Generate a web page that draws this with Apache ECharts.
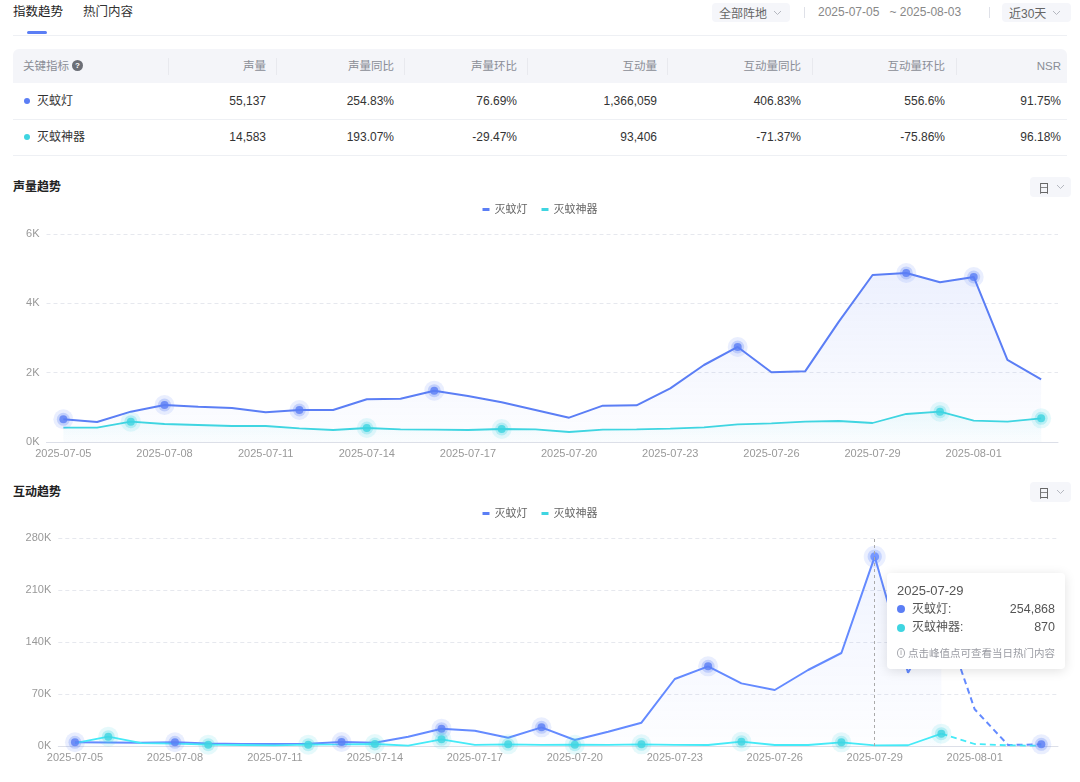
<!DOCTYPE html>
<html>
<head>
<meta charset="utf-8">
<script src="https://cdn.jsdelivr.net/npm/echarts@6/dist/echarts.min.js"></script>
<style>
  body { margin: 0; width: 1080px; height: 782px; overflow: hidden; background: #fff; position: relative;
    font-family: "Liberation Sans", "Noto Sans CJK SC", sans-serif; color: #333; }
  .abs { position: absolute; white-space: nowrap; }
  .pill { position: absolute; background: #f5f6fa; border-radius: 4px; font-size: 12px; color: #666;
    display: flex; align-items: center; box-sizing: border-box; padding-left: 7px; }
  .pill svg { margin-left: 6px; }
  .vsep { position: absolute; width: 1px; height: 11px; background: #dfe1e8; }
  .th { position: absolute; font-size: 11.5px; color: #8a8d96; line-height: 14px; top: 59px; }
  .td { position: absolute; font-size: 12px; color: #333; line-height: 14px; }
  .hdiv { position: absolute; top: 58px; width: 1px; height: 17px; background: #e8e9ee; }
  .title { position: absolute; left: 13px; font-size: 12px; font-weight: bold; color: #222; line-height: 14px; }
  .chart { position: absolute; left: 0; width: 1080px; }
</style>
</head>
<body>
  <div class="abs" style="left:13px;top:4px;font-size:12.5px;color:#222;line-height:16px;">指数趋势</div>
  <div class="abs" style="left:27px;top:31px;width:20px;height:3px;border-radius:2px;background:#5b7ef5;"></div>
  <div class="abs" style="left:83px;top:4px;font-size:12.5px;color:#333;line-height:16px;">热门内容</div>
  <div class="abs" style="left:13px;top:35px;width:1054px;height:1px;background:#eef0f4;"></div>

  <div class="pill" style="left:712px;top:3px;width:78px;height:19px;">全部阵地<svg width="9" height="6"><polyline points="1,1 4.5,4.5 8,1" fill="none" stroke="#b5b8c0"/></svg></div>
  <div class="vsep" style="left:804px;top:7px;"></div>
  <div class="abs" style="left:818px;top:5px;font-size:12px;color:#888;line-height:14px;">2025-07-05&nbsp;&nbsp;&nbsp;~ 2025-08-03</div>
  <div class="vsep" style="left:989px;top:7px;"></div>
  <div class="pill" style="left:1002px;top:3px;width:69px;height:19px;">近30天<svg width="9" height="6"><polyline points="1,1 4.5,4.5 8,1" fill="none" stroke="#b5b8c0"/></svg></div>

  <div class="abs" style="left:13px;top:49px;width:1054px;height:34px;background:#f4f5f9;border-radius:6px 6px 0 0;"></div>
  <div id="table"></div>

  <div class="title" style="top:180px;">声量趋势</div>
  <div class="pill" style="left:1030px;top:177px;width:41px;height:20px;padding-left:8px;z-index:3;">日<svg width="9" height="6"><polyline points="1,1 4.5,4.5 8,1" fill="none" stroke="#b5b8c0"/></svg></div>
  <div id="volume-chart" class="chart" style="top:196px;height:272px;"></div>

  <div class="title" style="top:485px;">互动趋势</div>
  <div class="pill" style="left:1030px;top:482px;width:41px;height:20px;padding-left:8px;z-index:3;">日<svg width="9" height="6"><polyline points="1,1 4.5,4.5 8,1" fill="none" stroke="#b5b8c0"/></svg></div>
  <div id="interact-chart" class="chart" style="top:500px;height:282px;"></div>

<script>
var dates = [
  "2025-07-05", "2025-07-06", "2025-07-07", "2025-07-08", "2025-07-09", "2025-07-10",
  "2025-07-11", "2025-07-12", "2025-07-13", "2025-07-14", "2025-07-15", "2025-07-16",
  "2025-07-17", "2025-07-18", "2025-07-19", "2025-07-20", "2025-07-21", "2025-07-22",
  "2025-07-23", "2025-07-24", "2025-07-25", "2025-07-26", "2025-07-27", "2025-07-28",
  "2025-07-29", "2025-07-30", "2025-07-31", "2025-08-01", "2025-08-02", "2025-08-03"
];
var seriesNames = ["灭蚊灯", "灭蚊神器"];
var seriesColors = ["#5b7ef5", "#3fd5e1"];

// 声量
var volumeLamp = [655, 577, 875, 1067, 1019, 981, 856, 923, 923, 1231, 1250, 1481, 1327, 1144, 923,
  702, 1048, 1058, 1548, 2221, 2741, 2010, 2039, 3471, 4818, 4876, 4607, 4760, 2366, 1809];
var volumeDevice = [413, 413, 586, 519, 490, 461, 461, 394, 346, 404, 365, 355, 346, 375, 365,
  288, 356, 365, 385, 423, 510, 538, 587, 606, 548, 808, 875, 615, 587, 683];
var volumeLampPeaks = [0, 3, 7, 11, 20, 25, 27];
var volumeDevicePeaks = [2, 9, 13, 26, 29];
var volumeTicks = [0, 6000, 2000];

// 互动量
var interactLamp = [4980, 4700, 4500, 4980, 3300, 2700, 2700, 3000, 5400, 4300, 12560, 23300, 20600, 11200, 25100,
  8080, 19300, 31400, 90200, 107200, 84300, 75400, 102300, 125200, 254868, 98700, 180000, 49400, 1300, 2200];
var interactDevice = [4000, 12560, 4000, 3100, 1800, 1350, 900, 1800, 2200, 2700, 450, 9000, 1500, 2200, 1500,
  1800, 1500, 2200, 1400, 1350, 5800, 1350, 1350, 4900, 870, 1000, 16600, 2700, 900, 400];
var interactLampPeaks = [0, 3, 8, 11, 14, 19, 24, 29];
var interactDevicePeaks = [1, 4, 7, 9, 11, 13, 15, 17, 20, 23, 26];
var interactTicks = [0, 280000, 70000];
var interactDashFrom = 26; // 之后数据未完整，虚线
var tipDate = "2025-07-29";

// 表格
var tableHeads = ["声量", "声量同比", "声量环比", "互动量", "互动量同比", "互动量环比", "NSR"];
var tableRows = [
  ["55,137", "254.83%", "76.69%", "1,366,059", "406.83%", "556.6%", "91.75%"],
  ["14,583", "193.07%", "-29.47%", "93,406", "-71.37%", "-75.86%", "96.18%"]
];

function renderTable() {
  var rights = [266, 394, 517, 657, 801, 945, 1061];
  var dividers = [168, 276, 404, 527, 667, 812, 956];
  var rowTops = [94, 130];
  var html = '<div class="th" style="left:23px;">关键指标</div>' +
    '<div class="abs" style="left:72px;top:60px;width:11px;height:11px;border-radius:50%;background:#6b6e76;color:#fff;font-size:8px;line-height:11px;text-align:center;font-weight:bold;">?</div>';
  dividers.forEach(function (x) {
    html += '<div class="hdiv" style="left:' + x + 'px;"></div>';
  });
  tableHeads.forEach(function (h, i) {
    html += '<div class="th" style="right:' + (1080 - rights[i]) + 'px;">' + h + "</div>";
  });
  tableRows.forEach(function (row, r) {
    var top = rowTops[r];
    html += '<div class="abs" style="left:24px;top:' + (top + 4) + 'px;width:6px;height:6px;border-radius:50%;background:' + seriesColors[r] + ';"></div>';
    html += '<div class="td" style="left:37px;top:' + top + 'px;">' + seriesNames[r] + "</div>";
    row.forEach(function (v, i) {
      html += '<div class="td" style="right:' + (1080 - rights[i]) + "px;top:" + top + 'px;">' + v + "</div>";
    });
    html += '<div class="abs" style="left:13px;top:' + (top + 25) + 'px;width:1054px;height:1px;background:#eef0f4;"></div>';
  });
  document.getElementById("table").innerHTML = html;
}
renderTable();

function rgba(hex, a) {
  var n = parseInt(hex.slice(1), 16);
  return "rgba(" + (n >> 16) + "," + ((n >> 8) & 255) + "," + (n & 255) + "," + a + ")";
}

function areaFill(color, top) {
  return {
    color: new echarts.graphic.LinearGradient(0, 0, 0, 1, [
      { offset: 0, color: rgba(color, top) },
      { offset: 1, color: rgba(color, 0.02) }
    ])
  };
}

function peakSeries(name, color, values, peaks) {
  var pts = values.map(function (v, i) {
    return peaks.indexOf(i) > -1 ? v : "-";
  });
  var layers = [[20, 0.17], [13, 0.34], [8, 1]];
  return layers.map(function (l) {
    return {
      name: name + "-peak",
      type: "scatter",
      data: pts,
      symbolSize: l[0],
      silent: true,
      z: 5,
      itemStyle: { color: rgba(color, l[1]) }
    };
  });
}

function xAxisCfg() {
  return {
    type: "category",
    data: dates,
    boundaryGap: true,
    axisLine: { lineStyle: { color: "#dcdfe8" } },
    axisTick: { interval: 2, length: 5, lineStyle: { color: "#dcdfe8" } },
    axisLabel: { interval: 2, color: "#999", fontSize: 11, margin: 6 }
  };
}

function yAxisCfg(ticks, margin) {
  return {
    type: "value",
    min: ticks[0],
    max: ticks[1],
    interval: ticks[2],
    axisLine: { show: false },
    axisTick: { show: false },
    axisLabel: {
      color: "#999",
      fontSize: 11,
      margin: margin,
      formatter: function (v) {
        return v / 1000 + "K";
      }
    },
    splitLine: { lineStyle: { color: "#e6e8ee", type: [4, 3] } }
  };
}

function legendCfg() {
  return {
    top: 3,
    left: "center",
    icon: "rect",
    itemWidth: 7,
    itemHeight: 3,
    itemGap: 14,
    data: seriesNames,
    textStyle: { fontSize: 11, color: "#666" }
  };
}

var fontFamily = '"Liberation Sans", "Noto Sans CJK SC", sans-serif';

function renderVolumeChart() {
  var myChart = echarts.init(document.getElementById("volume-chart"));
  var option = {
    animation: false,
    textStyle: { fontFamily: fontFamily },
    legend: legendCfg(),
    grid: { left: 46.5, right: 22, top: 38, bottom: 26 },
    xAxis: xAxisCfg(),
    yAxis: yAxisCfg(volumeTicks, 7),
    series: [
      {
        name: seriesNames[0],
        type: "line",
        data: volumeLamp,
        symbol: "none",
        color: seriesColors[0],
        lineStyle: { width: 2 },
        areaStyle: areaFill(seriesColors[0], 0.16)
      },
      {
        name: seriesNames[1],
        type: "line",
        data: volumeDevice,
        symbol: "none",
        color: seriesColors[1],
        lineStyle: { width: 1.8 },
        areaStyle: areaFill(seriesColors[1], 0.12)
      }
    ]
      .concat(peakSeries(seriesNames[0], seriesColors[0], volumeLamp, volumeLampPeaks))
      .concat(peakSeries(seriesNames[1], seriesColors[1], volumeDevice, volumeDevicePeaks))
  };
  myChart.setOption(option);
}

function renderInteractChart() {
  var myChart = echarts.init(document.getElementById("interact-chart"));
  function solidPart(values) {
    return values.map(function (v, i) { return i <= interactDashFrom ? v : "-"; });
  }
  function dashPart(values) {
    return values.map(function (v, i) { return i >= interactDashFrom ? v : "-"; });
  }
  var option = {
    animation: false,
    textStyle: { fontFamily: fontFamily },
    legend: legendCfg(),
    grid: { left: 58.3, right: 22, top: 38, bottom: 36 },
    tooltip: {
      trigger: "axis",
      alwaysShowContent: true,
      transitionDuration: 0,
      padding: [9, 10],
      backgroundColor: "#fff",
      borderWidth: 0,
      extraCssText: "box-shadow:0 2px 12px rgba(0,0,0,0.12);border-radius:4px;width:158px;",
      axisPointer: { type: "line", lineStyle: { color: "#aaa", type: [3, 3], width: 1 } },
      position: function () {
        return [887, 73];
      },
      formatter: function (params) {
        var rows = params.filter(function (p) {
          return seriesNames.indexOf(p.seriesName) > -1;
        });
        var html = '<div style="font-size:13px;color:#555;line-height:18px;">' + params[0].axisValue + "</div>";
        rows.forEach(function (p) {
          html += '<div style="display:flex;align-items:center;height:18.5px;">' +
            '<span style="display:inline-block;width:8px;height:8px;border-radius:50%;background:' + p.color + ';margin-right:7px;"></span>' +
            '<span style="flex:1;font-size:12px;color:#555;">' + p.seriesName + ":</span>" +
            '<span style="font-size:12.5px;color:#555;">' + Number(p.value).toLocaleString("en-US") + "</span></div>";
        });
        html += '<div style="display:flex;align-items:center;margin-top:9px;height:14px;font-size:10.5px;color:#9a9ca3;">' +
          '<span style="display:inline-block;box-sizing:border-box;width:10px;height:10px;border:1px solid #a5a7ad;border-radius:50%;font-size:7px;line-height:8px;text-align:center;margin-right:3px;color:#8a8c92;">i</span>' +
          "点击峰值点可查看当日热门内容</div>";
        return html;
      }
    },
    xAxis: xAxisCfg(),
    yAxis: yAxisCfg(interactTicks, 7),
    series: [
      {
        name: seriesNames[0],
        type: "line",
        data: solidPart(interactLamp),
        symbol: "none",
        color: seriesColors[0],
        lineStyle: { width: 2 },
        areaStyle: areaFill(seriesColors[0], 0.14)
      },
      {
        name: seriesNames[1],
        type: "line",
        data: solidPart(interactDevice),
        symbol: "none",
        color: seriesColors[1],
        lineStyle: { width: 1.8 },
        areaStyle: areaFill(seriesColors[1], 0.12)
      },
      {
        name: seriesNames[0] + "-dash",
        type: "line",
        data: dashPart(interactLamp),
        symbol: "none",
        color: seriesColors[0],
        lineStyle: { width: 2, type: [6, 4] }
      },
      {
        name: seriesNames[1] + "-dash",
        type: "line",
        data: dashPart(interactDevice),
        symbol: "none",
        color: seriesColors[1],
        lineStyle: { width: 1.8, type: [6, 4] }
      }
    ]
      .concat(peakSeries(seriesNames[0], seriesColors[0], interactLamp, interactLampPeaks))
      .concat(peakSeries(seriesNames[1], seriesColors[1], interactDevice, interactDevicePeaks))
  };
  myChart.setOption(option);
  myChart.dispatchAction({ type: "showTip", seriesIndex: 0, dataIndex: dates.indexOf(tipDate) });
}

renderVolumeChart();
renderInteractChart();
</script>
</body>
</html>
